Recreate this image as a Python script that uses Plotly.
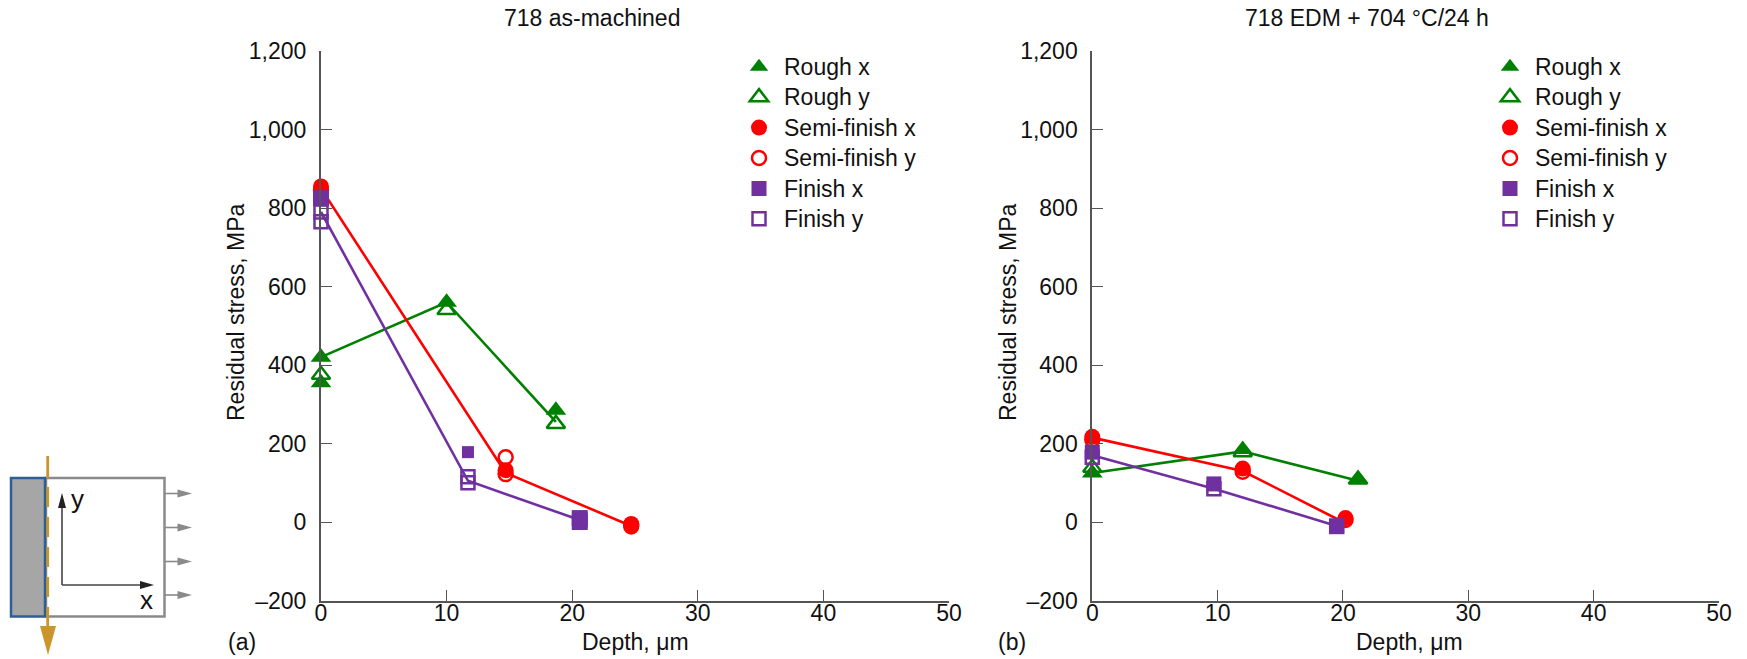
import plotly.graph_objects as go

W, H = 1747, 659
GREEN, RED, PURPLE = "#008000", "#ff0000", "#7030a0"
FONT = "Liberation Sans"
INK = "#111111"
AXIS = "#555555"

yticks = [-200, 0, 200, 400, 600, 800, 1000, 1200]
yticklabels = ["\u2013200", "0", "200", "400", "600", "800", "1,000", "1,200"]
xticks = [0, 10, 20, 30, 40, 50]

# Panel (a)
a_rough_line_x = [0, 10, 18.7]
a_rough_line_y = [420, 560, 255]
a_semi_line_x = [0, 14.7, 24.7]
a_semi_line_y = [850, 125, -10]
a_finish_line_x = [0, 11.7, 20.6]
a_finish_line_y = [790, 105, 5]
a_rough_x_x = [0, 0, 10, 18.7]
a_rough_x_y = [420, 355, 560, 285]
a_rough_y_x = [0, 10, 18.7]
a_rough_y_y = [375, 540, 250]
a_semi_x_x = [0, 14.7, 24.7, 24.7]
a_semi_x_y = [855, 132, -5, -12]
a_semi_y_x = [0, 14.7, 14.7, 24.7]
a_semi_y_y = [845, 165, 122, -8]
a_finish_x_x = [0, 11.7, 20.6, 20.6]
a_finish_x_y = [825, 178, 10, 0]
a_finish_y_x = [0, 0, 11.7, 11.7, 20.6]
a_finish_y_y = [790, 765, 115, 100, 5]

# Panel (b)
b_rough_line_x = [0, 12, 21.2]
b_rough_line_y = [125, 180, 105]
b_semi_line_x = [0, 12, 20]
b_semi_line_y = [215, 130, 0]
b_finish_line_x = [0, 9.7, 19.5]
b_finish_line_y = [170, 85, -10]
b_rough_x_x = [0, 12, 21.2]
b_rough_x_y = [125, 185, 108]
b_rough_y_x = [0, 12, 21.2]
b_rough_y_y = [138, 178, 108]
b_semi_x_x = [0, 12, 20.2]
b_semi_x_y = [217, 136, 10]
b_semi_y_x = [0, 12, 20.2]
b_semi_y_y = [210, 128, 5]
b_finish_x_x = [0, 9.7, 19.5]
b_finish_x_y = [178, 97, -12]
b_finish_y_x = [0, 9.7, 19.5]
b_finish_y_y = [165, 85, -10]

series_names = ["Rough x", "Rough y", "Semi-finish x", "Semi-finish y", "Finish x", "Finish y"]
series_colors = [GREEN, GREEN, RED, RED, PURPLE, PURPLE]
series_symbols = ["triangle-up", "triangle-up-open", "circle", "circle-open", "square", "square-open"]
series_sizes = [18, 16, 16, 14, 15, 13]

panels = {
    "a": dict(xa="x", ya="y", legend="legend",
              lines=[(a_rough_line_x, a_rough_line_y, GREEN), (a_semi_line_x, a_semi_line_y, RED),
                     (a_finish_line_x, a_finish_line_y, PURPLE)],
              pts=[(a_rough_x_x, a_rough_x_y), (a_rough_y_x, a_rough_y_y), (a_semi_x_x, a_semi_x_y),
                   (a_semi_y_x, a_semi_y_y), (a_finish_x_x, a_finish_x_y), (a_finish_y_x, a_finish_y_y)]),
    "b": dict(xa="x2", ya="y2", legend="legend2",
              lines=[(b_rough_line_x, b_rough_line_y, GREEN), (b_semi_line_x, b_semi_line_y, RED),
                     (b_finish_line_x, b_finish_line_y, PURPLE)],
              pts=[(b_rough_x_x, b_rough_x_y), (b_rough_y_x, b_rough_y_y), (b_semi_x_x, b_semi_x_y),
                   (b_semi_y_x, b_semi_y_y), (b_finish_x_x, b_finish_x_y), (b_finish_y_x, b_finish_y_y)]),
}

fig = go.Figure()
for key, p in panels.items():
    for lx, ly, c in p["lines"]:
        fig.add_trace(go.Scatter(x=lx, y=ly, mode="lines", xaxis=p["xa"], yaxis=p["ya"],
                                 line=dict(color=c, width=2.6), showlegend=False, cliponaxis=False))
    for i, (px_, py_) in enumerate(p["pts"]):
        size = series_sizes[i]
        if key == "a" and i == 4:
            size = [size + 1, size - 3, size + 1, size + 1]  # the lone mid-depth square is drawn smaller
        fig.add_trace(go.Scatter(
            x=px_, y=py_, mode="markers", xaxis=p["xa"], yaxis=p["ya"],
            name=f'<span style="font-size:23px">{series_names[i]}</span>',
            legend=p["legend"], cliponaxis=False,
            marker=dict(symbol=series_symbols[i], color=series_colors[i], size=size, opacity=1,
                        line=dict(color=series_colors[i], width=2.5 if i % 2 else 0))))


def X(px):
    return px / W


def Y(px):
    return 1 - px / H


def axis_x(x0, x1):
    return dict(domain=[X(x0), X(x1)], range=[0, 50], tickvals=xticks, ticks="inside", ticklen=11,
                tickwidth=1.4, tickcolor=AXIS, showline=True, linecolor=AXIS, linewidth=2, showgrid=False,
                zeroline=False, automargin=False, ticklabelstandoff=-9,
                tickfont=dict(family=FONT, size=23, color=INK))


def axis_y(x_anchor):
    return dict(domain=[Y(600.5), Y(51)], range=[-200, 1200], tickvals=yticks, ticktext=yticklabels,
                ticks="inside", ticklen=11, tickwidth=1.4, tickcolor=AXIS, showline=True, linecolor=AXIS,
                linewidth=2, showgrid=False, zeroline=False, anchor=x_anchor, automargin=False,
                ticklabelstandoff=8, tickfont=dict(family=FONT, size=23, color=INK))


def legend_at(x_px):
    # the base size sets the row pitch; the entries themselves are set at 23 px
    return dict(x=X(x_px), y=Y(46.5), xanchor="left", yanchor="top", bgcolor="rgba(0,0,0,0)",
                font=dict(family=FONT, size=21.1, color=INK), itemwidth=40)


# Schematic drawn in page pixels
DIAGRAM_GOLD = "#c9962b"
DIAGRAM_GRAY = "#8a8a8a"
DIAGRAM_BLUE = "#2f5f92"
DIAGRAM_DARK = "#444444"
shapes = []


def rect(x0, y0, x1, y1, line, fill, w=2.5):
    shapes.append(dict(type="rect", xref="paper", yref="paper", x0=X(x0), x1=X(x1), y0=Y(y0), y1=Y(y1),
                       line=dict(color=line, width=w), fillcolor=fill))


def seg(x0, y0, x1, y1, color, w):
    shapes.append(dict(type="line", xref="paper", yref="paper", x0=X(x0), x1=X(x1), y0=Y(y0), y1=Y(y1),
                       line=dict(color=color, width=w)))


def tri(pts, color):
    path = "M " + " L ".join(f"{X(a):.5f},{Y(b):.5f}" for a, b in pts) + " Z"
    shapes.append(dict(type="path", xref="paper", yref="paper", path=path, fillcolor=color,
                       line=dict(color=color, width=0)))


rect(46, 478, 164.5, 616.5, DIAGRAM_GRAY, "white")
rect(11, 478, 45, 616.5, DIAGRAM_BLUE, "#a6a6a6")
seg(47.7, 456, 47.7, 478, DIAGRAM_GOLD, 2.8)
for y0, y1 in [(487, 507), (517, 537), (547, 567), (577, 597), (607, 627)]:
    seg(47.7, y0, 47.7, y1, DIAGRAM_GOLD, 2.8)
tri([(40, 626), (56, 626), (48, 655)], DIAGRAM_GOLD)
for y in [493.5, 527.5, 561.5, 595]:
    seg(165, y, 179, y, DIAGRAM_GRAY, 1.6)
    tri([(177.5, y - 4), (192, y), (177.5, y + 4)], DIAGRAM_GRAY)
seg(62, 585, 62, 507, DIAGRAM_DARK, 1.6)
seg(62, 585, 141, 585, DIAGRAM_DARK, 1.6)
tri([(58, 508), (62, 493), (66, 508)], "#222222")
tri([(140, 581), (154, 585), (140, 589)], "#222222")


def note(text, x, y, size=23, angle=0, anchor="center"):
    return dict(text=text, xref="paper", yref="paper", x=X(x), y=Y(y), xanchor=anchor, yanchor="middle",
                showarrow=False, textangle=angle, font=dict(family=FONT, size=size, color=INK))


annotations = [
    note("718 as-machined", 592, 18),
    note("718 EDM + 704 \u00b0C/24 h", 1367, 18),
    note("Residual stress, MPa", 236, 312, angle=-90),
    note("Residual stress, MPa", 1008, 312, angle=-90),
    note("Depth, \u03bcm", 635, 642),
    note("Depth, \u03bcm", 1409, 642),
    note("(a)", 242, 642),
    note("(b)", 1012, 642),
    note("y", 77, 499, size=26),
    note("x", 146, 600, size=26),
]

fig.update_layout(
    width=W, height=H, autosize=False, margin=dict(l=0, r=0, t=0, b=0),
    paper_bgcolor="white", plot_bgcolor="rgba(0,0,0,0)", showlegend=True,
    xaxis=axis_x(321, 949), yaxis=axis_y("x"),
    xaxis2=axis_x(1092.3, 1719), yaxis2=axis_y("x2"),
    legend=legend_at(734), legend2=legend_at(1485),
    shapes=shapes, annotations=annotations,
)
fig.update_layout(xaxis2=dict(anchor="y2"))
fig.write_html("out.html", config=dict(displayModeBar=False),
               post_script="document.body.style.margin='0';document.documentElement.style.overflow='hidden';")
